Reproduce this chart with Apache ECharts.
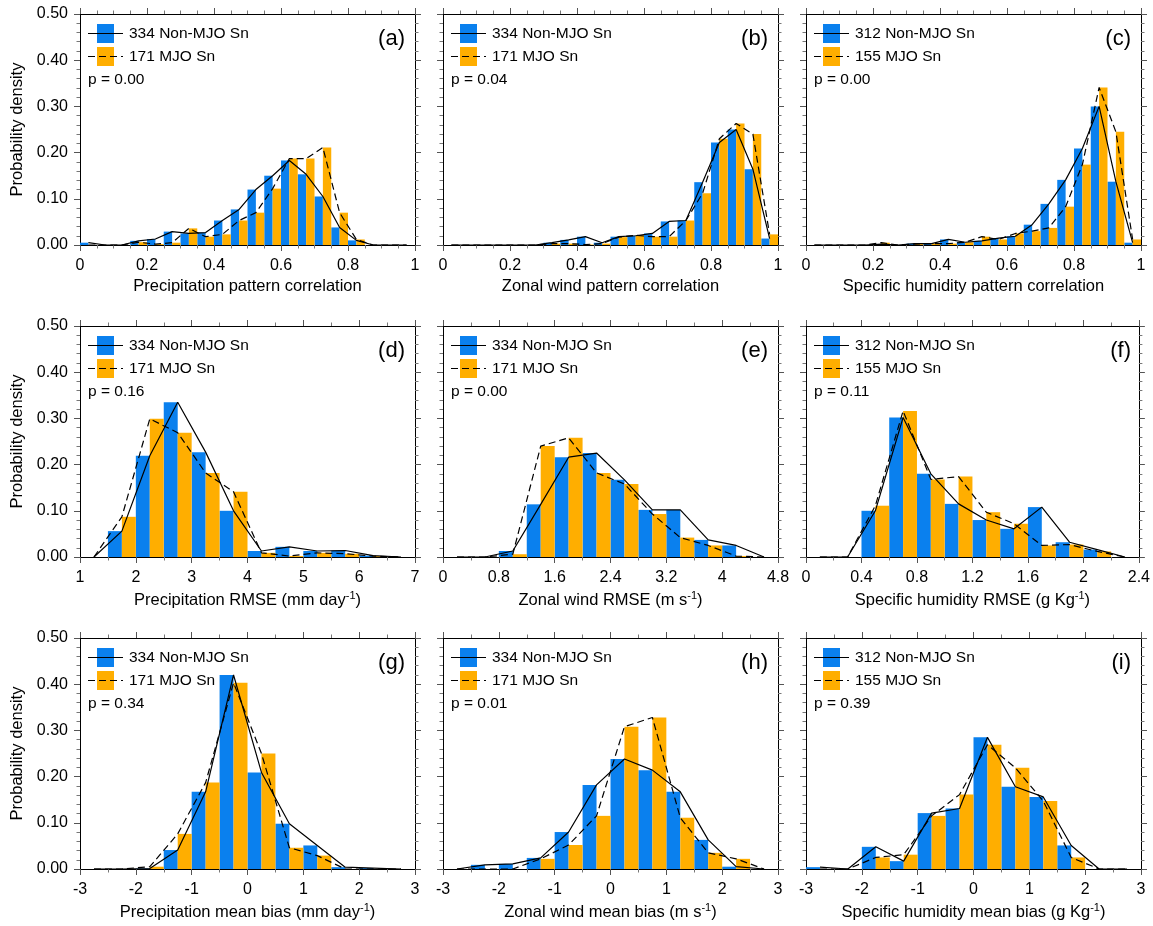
<!DOCTYPE html>
<html>
<head>
<meta charset="utf-8">
<script src="https://cdn.jsdelivr.net/npm/echarts@6/dist/echarts.min.js"></script>
<style>
  html, body { margin: 0; background: #fff; }
  #chart { width: 1153px; height: 926px; }
</style>
</head>
<body>
<div id="chart"></div>
<script>
// probability density per bin, Non-MJO (blue, solid) and MJO (orange, dashed)
const aNon = [0.005, 0, 0, 0.009, 0.013, 0.029, 0.025, 0.027, 0.053, 0.077, 0.120, 0.150, 0.183, 0.153, 0.105, 0.038, 0.010, 0, 0, 0]
const aMjo = [0, 0, 0, 0.006, 0.002, 0.005, 0.036, 0.018, 0.023, 0.053, 0.070, 0.122, 0.187, 0.187, 0.211, 0.070, 0.012, 0, 0, 0]
const bNon = [0, 0, 0, 0, 0, 0, 0.005, 0.011, 0.018, 0.005, 0.018, 0.020, 0.025, 0.051, 0.053, 0.136, 0.222, 0.250, 0.164, 0.014]
const bMjo = [0, 0, 0, 0, 0, 0, 0.003, 0.003, 0.001, 0.003, 0.017, 0.021, 0.018, 0.018, 0.053, 0.112, 0.230, 0.263, 0.240, 0.023]
const cNon = [0, 0, 0, 0, 0.002, 0, 0.003, 0.003, 0.012, 0.006, 0.009, 0.015, 0.019, 0.044, 0.089, 0.141, 0.209, 0.300, 0.137, 0.005]
const cMjo = [0, 0, 0, 0, 0.005, 0, 0.002, 0.003, 0.003, 0.006, 0.018, 0.012, 0.025, 0.030, 0.037, 0.083, 0.174, 0.341, 0.245, 0.012]
const dNon = [0, 0.056, 0.219, 0.335, 0.227, 0.100, 0.013, 0.022, 0.013, 0.014, 0.003, 0]
const dMjo = [0, 0.087, 0.299, 0.269, 0.182, 0.141, 0.009, 0.002, 0.009, 0.007, 0.002, 0]
const eNon = [0, 0, 0.013, 0.114, 0.216, 0.225, 0.167, 0.102, 0.102, 0.037, 0.025, 0]
const eMjo = [0, 0, 0.006, 0.240, 0.258, 0.182, 0.158, 0.093, 0.042, 0.025, 0.002, 0]
const fNon = [0, 0, 0.100, 0.302, 0.180, 0.115, 0.080, 0.061, 0.108, 0.032, 0.016, 0]
const fMjo = [0, 0, 0.111, 0.316, 0.168, 0.174, 0.097, 0.072, 0.025, 0.027, 0.012, 0]
const gNon = [0, 0, 0.001, 0.041, 0.167, 0.420, 0.209, 0.098, 0.051, 0.004, 0.002, 0]
const gMjo = [0, 0, 0.005, 0.076, 0.187, 0.403, 0.250, 0.046, 0.029, 0, 0, 0]
const hNon = [0, 0.009, 0.011, 0.024, 0.080, 0.182, 0.238, 0.214, 0.167, 0.063, 0.005, 0]
const hMjo = [0, 0, 0, 0.022, 0.052, 0.115, 0.308, 0.328, 0.111, 0.035, 0.022, 0]
const iNon = [0.004, 0, 0.048, 0.017, 0.121, 0.131, 0.285, 0.178, 0.156, 0.051, 0, 0]
const iMjo = [0, 0, 0.025, 0.031, 0.115, 0.161, 0.269, 0.219, 0.147, 0.025, 0, 0]

const pValues = ['0.00', '0.04', '0.00', '0.16', '0.00', '0.11', '0.34', '0.01', '0.39']
const tags = ['(a)', '(b)', '(c)', '(d)', '(e)', '(f)', '(g)', '(h)', '(i)']
const nonCount = [334, 334, 312, 334, 334, 312, 334, 334, 312]
const mjoCount = [171, 171, 155, 171, 171, 155, 171, 171, 155]
const xNames = [
  '{t|Precipitation pattern correlation}',
  '{t|Zonal wind pattern correlation}',
  '{t|Specific humidity pattern correlation}',
  '{t|Precipitation RMSE (mm day}{s|-1}{t|)}',
  '{t|Zonal wind RMSE (m s}{s|-1}{t|)}',
  '{t|Specific humidity RMSE (g Kg}{s|-1}{t|)}',
  '{t|Precipitation mean bias (mm day}{s|-1}{t|)}',
  '{t|Zonal wind mean bias (m s}{s|-1}{t|)}',
  '{t|Specific humidity mean bias (g Kg}{s|-1}{t|)}'
]
// x axis: min, max, tick step, minor splits, bin width
const xAxes = [
  [0, 1, 0.2, 4, 0.05], [0, 1, 0.2, 4, 0.05], [0, 1, 0.2, 4, 0.05],
  [1, 7, 1, 2, 0.5], [0, 4.8, 0.8, 2, 0.4], [0, 2.4, 0.4, 2, 0.2],
  [-3, 3, 1, 2, 0.5], [-3, 3, 1, 2, 0.5], [-3, 3, 1, 2, 0.5]
]
const nonData = [aNon, bNon, cNon, dNon, eNon, fNon, gNon, hNon, iNon]
const mjoData = [aMjo, bMjo, cMjo, dMjo, eMjo, fMjo, gMjo, hMjo, iMjo]

const BLUE = '#0a80ee'
const ORANGE = '#ffae00'
const FONT = '"Liberation Sans", Helvetica, Arial, sans-serif'

const chart = echarts.init(document.getElementById('chart'))

const cols = [80, 443, 806]
const rows = [14, 326, 638]
const W = 335, H = 231

const grid = [], xAxis = [], yAxis = [], series = [], graphic = []

const barItem = color => (params, api) => {
  const p0 = api.coord([api.value(0), api.value(2)])
  const p1 = api.coord([api.value(1), 0])
  return {
    type: 'rect',
    shape: { x: p0[0], y: p0[1], width: p1[0] - p0[0], height: p1[1] - p0[1] },
    style: { fill: color }
  }
}

xAxes.forEach((ax, k) => {
  const [lo, hi, step, minor, bin] = ax
  const L = cols[k % 3], T = rows[Math.floor(k / 3)]
  grid.push({ left: L, top: T, width: W, height: H })

  const tickCommon = {
    axisLine: { show: true, onZero: false, lineStyle: { color: '#000', width: 1 } },
    axisTick: { show: true, length: 6, lineStyle: { color: '#555' } },
    minorTick: { show: true, length: 3.5, lineStyle: { color: '#777' } },
    splitLine: { show: false }
  }
  xAxis.push({
    ...tickCommon, type: 'value', gridIndex: k, position: 'bottom',
    min: lo, max: hi, interval: step,
    minorTick: { ...tickCommon.minorTick, splitNumber: minor },
    axisLabel: { margin: 13, fontSize: 16, color: '#000', fontFamily: FONT,
      formatter: v => String(+v.toFixed(2)) },
    name: xNames[k], nameLocation: 'middle', nameGap: 33,
    nameTextStyle: { rich: {
      t: { fontSize: 16.5, color: '#000', fontFamily: FONT },
      s: { fontSize: 11, color: '#000', fontFamily: FONT, padding: [0, 0, 9, 0] }
    } }
  })
  xAxis.push({
    ...tickCommon, type: 'value', gridIndex: k, position: 'top',
    min: lo, max: hi, interval: step,
    minorTick: { ...tickCommon.minorTick, splitNumber: minor },
    axisLabel: { show: false }
  })
  const left = k % 3 === 0
  yAxis.push({
    ...tickCommon, type: 'value', gridIndex: k, position: 'left',
    min: 0, max: 0.5, interval: 0.1,
    minorTick: { ...tickCommon.minorTick, splitNumber: 5 },
    axisLabel: { show: left, margin: 12, fontSize: 16, color: '#000', fontFamily: FONT,
      formatter: v => v.toFixed(2) },
    name: left ? 'Probability density' : '', nameLocation: 'middle', nameGap: 54,
    nameTextStyle: { fontSize: 16.5, color: '#000', fontFamily: FONT }
  })
  yAxis.push({
    ...tickCommon, type: 'value', gridIndex: k, position: 'right',
    min: 0, max: 0.5, interval: 0.1,
    minorTick: { ...tickCommon.minorTick, splitNumber: 5 },
    axisLabel: { show: false }
  })

  const xi = 2 * k, yi = 2 * k
  const non = nonData[k], mjo = mjoData[k]
  series.push({
    type: 'custom', xAxisIndex: xi, yAxisIndex: yi, renderItem: barItem(BLUE),
    encode: { x: [0, 1], y: 2 }, silent: true,
    data: non.map((v, i) => [lo + i * bin, lo + (i + 0.5) * bin, v])
  })
  series.push({
    type: 'custom', xAxisIndex: xi, yAxisIndex: yi, renderItem: barItem(ORANGE),
    encode: { x: [0, 1], y: 2 }, silent: true,
    data: mjo.map((v, i) => [lo + (i + 0.5) * bin, lo + (i + 1) * bin, v])
  })
  series.push({
    type: 'line', xAxisIndex: xi, yAxisIndex: yi, symbol: 'none', silent: true, z: 5,
    lineStyle: { color: '#000', width: 1.2 },
    data: non.map((v, i) => [lo + (i + 0.5) * bin, v])
  })
  series.push({
    type: 'line', xAxisIndex: xi, yAxisIndex: yi, symbol: 'none', silent: true, z: 5,
    lineStyle: { color: '#000', width: 1.2, type: [7, 4] },
    data: mjo.map((v, i) => [lo + (i + 0.5) * bin, v])
  })

  // legend boxes
  graphic.push(
    { type: 'rect', shape: { x: L + 17, y: T + 10, width: 17, height: 19 }, style: { fill: BLUE } },
    { type: 'line', shape: { x1: L + 8, y1: T + 19.5, x2: L + 43, y2: T + 19.5 }, style: { stroke: '#000', lineWidth: 1.2 } },
    { type: 'text', x: L + 49, y: T + 19.5, style: { text: nonCount[k] + ' Non-MJO Sn', font: '15.5px ' + FONT, fill: '#000', verticalAlign: 'middle' } },
    { type: 'rect', shape: { x: L + 17, y: T + 33, width: 17, height: 19 }, style: { fill: ORANGE } },
    { type: 'line', shape: { x1: L + 8, y1: T + 42.5, x2: L + 43, y2: T + 42.5 }, style: { stroke: '#000', lineWidth: 1.2, lineDash: [7, 4] } },
    { type: 'text', x: L + 49, y: T + 42.5, style: { text: mjoCount[k] + ' MJO Sn', font: '15.5px ' + FONT, fill: '#000', verticalAlign: 'middle' } },
    { type: 'text', x: L + 8, y: T + 66, style: { text: 'p = ' + pValues[k], font: '15.5px ' + FONT, fill: '#000', verticalAlign: 'middle' } },
    { type: 'text', x: L + W - 10, y: T + 25, style: { text: tags[k], font: '22px ' + FONT, fill: '#000', align: 'right', verticalAlign: 'middle' } }
  )
})

chart.setOption({
  animation: false,
  backgroundColor: '#fff',
  grid, xAxis, yAxis, series,
  graphic: { elements: graphic }
})
</script>
</body>
</html>
